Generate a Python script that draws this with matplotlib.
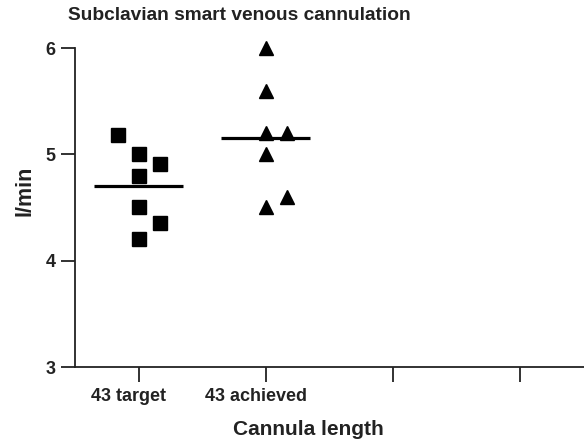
import numpy as np
import matplotlib
matplotlib.use("Agg")
import matplotlib.pyplot as plt
import matplotlib.transforms as mtransforms

plt.rcParams['font.family'] = ['Liberation Sans', 'DejaVu Sans']
plt.rcParams['font.weight'] = 'bold'

# data
categories = ['43 target', '43 achieved', '', '']
target_values = [5.18, 5.0, 4.91, 4.8, 4.5, 4.35, 4.2]
target_offsets = [-0.165, 0, 0.165, 0, 0, 0.165, 0]
achieved_values = [6.0, 5.6, 5.2, 5.2, 5.0, 4.6, 4.5]
achieved_offsets = [0, 0, 0, 0.165, 0, 0.165, 0]
y_ticks = [3, 4, 5, 6]

fig = plt.figure(figsize=(5.84, 4.4), dpi=100)
ax = fig.add_axes([75 / 584, 1 - 367 / 440, 1 - 75 / 584, (367 - 48) / 440])

groups = [(target_values, target_offsets, 's'), (achieved_values, achieved_offsets, '^')]
for i, (vals, offs, marker) in enumerate(groups):
    pos = i + 1
    xs = pos + np.array(offs)
    ax.plot(xs, vals, linestyle='none', marker=marker, markersize=10,
            color='black', clip_on=False, zorder=3)
    m = np.mean(vals)
    ax.plot([pos - 0.35, pos + 0.35], [m, m], color='black', lw=2.3,
            solid_capstyle='butt', zorder=2)

ax.set_xlim(0.5, 4.5)
ax.set_ylim(3, 6)
ax.set_xticks(range(1, len(categories) + 1))
ax.set_xticklabels(categories)
ax.set_yticks(y_ticks)

for side in ['top', 'right']:
    ax.spines[side].set_visible(False)
for side in ['left', 'bottom']:
    ax.spines[side].set_linewidth(1.3)
    ax.spines[side].set_color('#222222')

ax.tick_params(axis='y', direction='out', length=10, width=1.3, labelsize=13,
               pad=4, color='#222222', labelcolor='#222222')
ax.tick_params(axis='x', direction='out', length=11, width=1.3, labelsize=13,
               pad=4, color='#222222', labelcolor='#222222')

# tick labels sit a little left of their ticks in the original
shift = mtransforms.ScaledTranslation(-10 / 100, 0, fig.dpi_scale_trans)
for lab in ax.get_xticklabels():
    lab.set_transform(lab.get_transform() + shift)

ax.set_xlabel('Cannula length', fontsize=15, fontweight='bold', color='#222222')
ax.xaxis.set_label_coords((308 - 75) / 509, -(429 - 367) / 319)
ax.xaxis.label.set_va('center')
ax.set_ylabel('l/min', fontsize=15.5, fontweight='bold', color='#222222')
ax.yaxis.set_label_coords((25 - 75) / 509, (367 - 191) / 319)
ax.yaxis.label.set_va('center')

fig.text(68 / 584, 1 - 15 / 440, 'Subclavian smart venous cannulation',
         fontsize=13.8, fontweight='bold', ha='left', va='center', color='#222222')

fig.savefig('out.png', dpi=100)
